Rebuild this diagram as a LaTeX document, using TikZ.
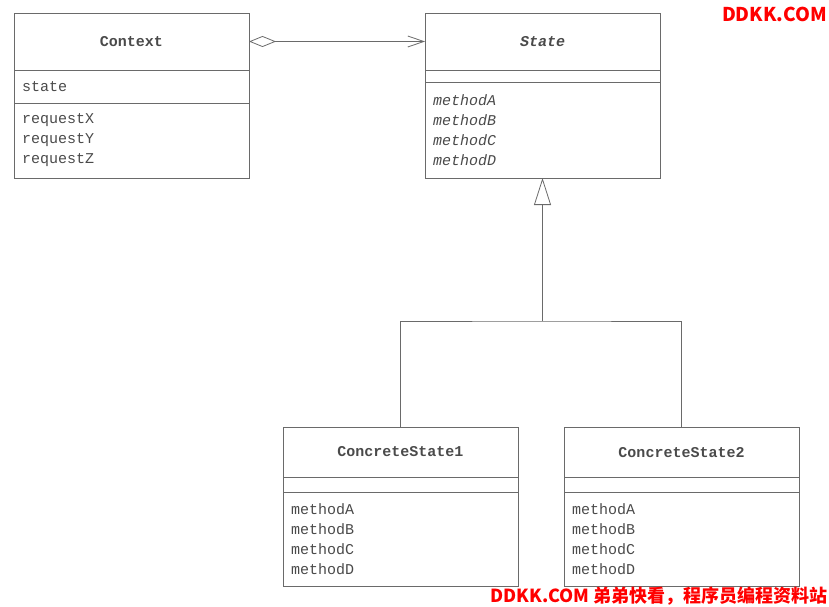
\documentclass[tikz,border=0pt]{standalone}
\usepackage{fontspec}
\setmonofont{Liberation Mono}
\newfontfamily\cjk{Noto Sans CJK SC}
\usetikzlibrary{positioning,arrows.meta}
\definecolor{linegray}{HTML}{6A6A6A}
\definecolor{textgray}{HTML}{4A4A4A}
\definecolor{markred}{HTML}{FF0000}
\newcommand{\umlfont}{\ttfamily\fontsize{15}{20}\selectfont}
\tikzset{
  classname/.style={draw=linegray, line width=0.8pt, minimum width=235pt,
    minimum height=57pt, inner sep=0pt, outer sep=0pt, font=\umlfont\bfseries, text=textgray},
  classpart/.style={draw=linegray, line width=0.8pt, text width=219pt, outer sep=0pt,
    inner xsep=8pt, inner ysep=0pt, align=left, font=\umlfont, text=textgray},
  watermark/.style={text=markred, inner sep=0pt}
}
\begin{document}
\begin{tikzpicture}[x=1pt, y=1pt]
  \useasboundingbox (0,0) rectangle (829,-607);

  %Context
  \node[classname] (context) at (131.5,-41.5) {Context};
  \node[classpart, minimum height=33pt, below=0pt of context] (contextattr) {state};
  \node[classpart, minimum height=75pt, below=0pt of contextattr] (contextops)
    {requestX\\requestY\\requestZ};

  %State
  \node[classname] (state) at (542.5,-41.5) {\itshape State};
  \node[classpart, minimum height=12pt, below=0pt of state] (stateattr) {};
  \node[classpart, minimum height=96pt, below=0pt of stateattr] (stateops)
    {\itshape methodA\\\itshape methodB\\\itshape methodC\\\itshape methodD};

  %ConcreteState1
  \node[classname, minimum height=50pt] (concrete1) at (400.5,-452) {ConcreteState1};
  \node[classpart, minimum height=15pt, below=0pt of concrete1] (concrete1attr) {};
  \node[classpart, minimum height=94pt, below=0pt of concrete1attr] (concrete1ops)
    {methodA\\methodB\\methodC\\methodD};

  %ConcreteState2
  \node[classname, minimum height=50pt] (concrete2) at (681.5,-452.5) {ConcreteState2};
  \node[classpart, minimum height=15pt, below=0pt of concrete2] (concrete2attr) {};
  \node[classpart, minimum height=94pt, below=0pt of concrete2attr] (concrete2ops)
    {methodA\\methodB\\methodC\\methodD};

  %Aggregation
  \draw[linegray, line width=0.8pt,
    {Diamond[open, length=27pt, width=11pt]}-{Straight Barb[length=16pt, width=11pt]}]
    (context) -- (state);

  %Generalization
  \coordinate (fork) at (stateops.south |- 0,-321);
  \draw[linegray, line width=0.8pt] (concrete1.north) |- (fork) -| (concrete2.north);
  \draw[linegray, line width=0.8pt, -{Triangle[open, length=27pt, width=17pt]}]
    (fork) -- (stateops.south);

  %Marks
  \node[watermark, font=\cjk\bfseries\fontsize{19}{20}\selectfont, anchor=east] (marktop)
    at (827,-14) {DDKK.COM};
  \node[watermark, font=\cjk\bfseries\fontsize{18}{20}\selectfont, anchor=east] (markbottom)
    at (828,-596) {DDKK.COM 弟弟快看，程序员编程资料站};
\end{tikzpicture}
\end{document}
